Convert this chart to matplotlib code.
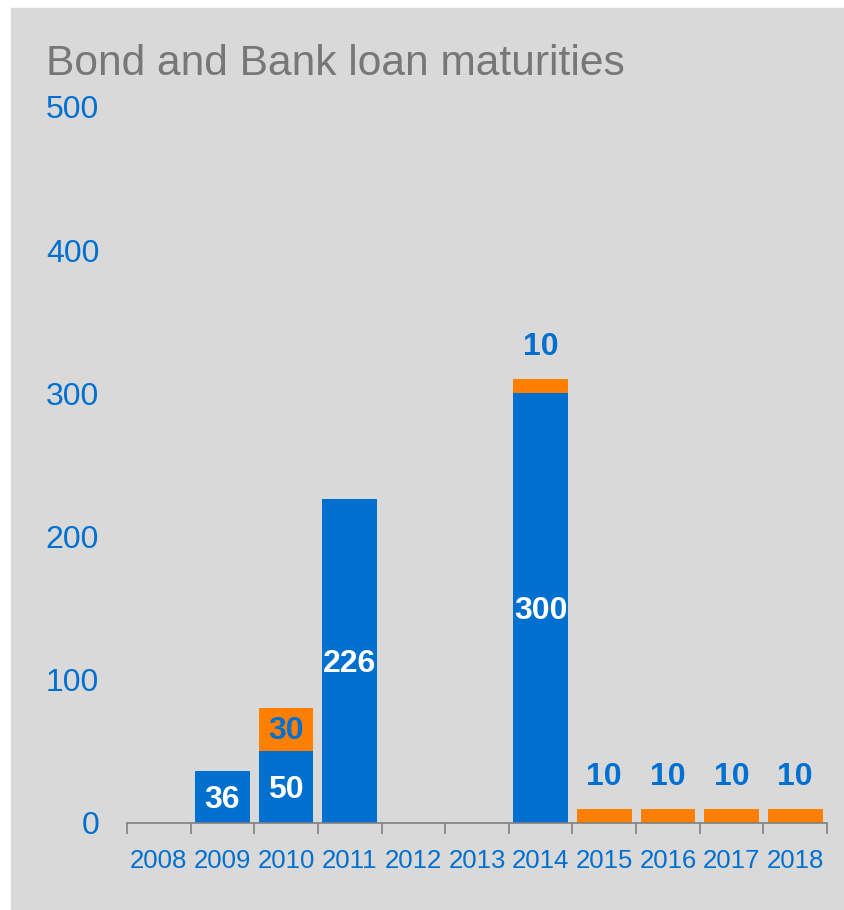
import matplotlib.pyplot as plt
from matplotlib.patches import Rectangle

plt.rcParams['font.family'] = ['Liberation Sans', 'DejaVu Sans']

years = ['2008', '2009', '2010', '2011', '2012', '2013', '2014', '2015', '2016', '2017', '2018']
bonds = [0, 36, 50, 226, 0, 0, 300, 0, 0, 0, 0]
loans = [0, 0, 30, 0, 0, 0, 10, 10, 10, 10, 10]

blue = '#0070d0'
orange = '#ff8000'
grey_bg = '#d9d9d9'

W, H = 844, 910
fig = plt.figure(figsize=(W / 100, H / 100), dpi=100)
fig.patch.set_facecolor('white')
fig.patches.append(Rectangle((11 / W, 0), 1 - 11 / W, 1 - 8 / H,
                             transform=fig.transFigure, color=grey_bg, zorder=-10))

ax = fig.add_axes([127 / W, 1 - 823 / H, 700 / W, (823 - 107) / H])
ax.patch.set_alpha(0)

x = list(range(len(years)))
ax.bar(x, bonds, width=0.86, color=blue)
ax.bar(x, loans, bottom=bonds, width=0.86, color=orange)

lab = dict(ha='center', va='center', fontsize=23, fontweight='bold',
           textcoords='offset points')
for i in x:
    b, l = bonds[i], loans[i]
    if b > 0:
        ax.annotate(str(b), (i, b / 2), xytext=(0, -2), color='white', **lab)
    if l > 0:
        if l >= 20:
            ax.annotate(str(l), (i, b + l / 2), xytext=(0, -1), color=blue, **lab)
        else:
            ax.annotate(str(l), (i, b + l), xytext=(0, 23), color=blue, **lab)

ax.set_xlim(-0.5, len(years) - 0.5)
ax.set_ylim(0, 500)
ax.set_yticks([0, 100, 200, 300, 400, 500])
ax.set_xticks(x)
ax.set_xticklabels(years)
ax.set_xticks([i - 0.5 for i in range(len(years) + 1)], minor=True)
ax.tick_params(axis='x', which='major', length=0, pad=19, labelsize=18.5, labelcolor=blue)
ax.tick_params(axis='x', which='minor', length=8, width=1.2, color='#808080', direction='out')
ax.tick_params(axis='y', length=0, pad=20, labelsize=23, labelcolor=blue)

for s in ['top', 'right', 'left']:
    ax.spines[s].set_visible(False)
ax.spines['bottom'].set_color('#808080')
ax.spines['bottom'].set_linewidth(1.2)

fig.text(46 / W, 1 - 75 / H, 'Bond and Bank loan maturities', color='#777777',
         fontsize=30.6, va='baseline', ha='left')

fig.savefig('out.png', dpi=100, facecolor=fig.get_facecolor())
